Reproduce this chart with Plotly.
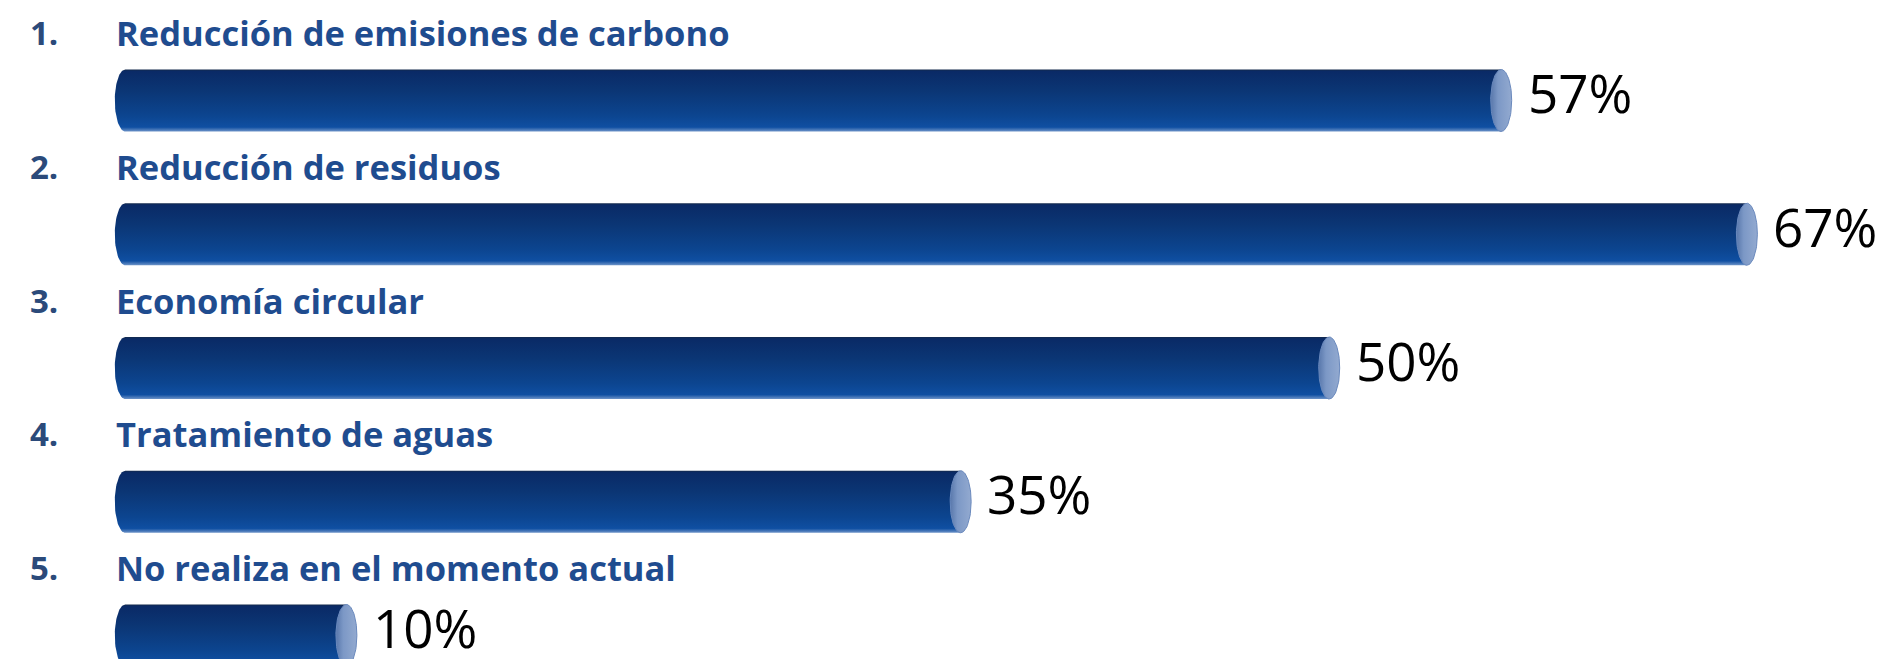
import numpy as np
import plotly.graph_objects as go

# ---- data ----
numbers = ["1.", "2.", "3.", "4.", "5."]
categories = [
    "Reducción de emisiones de carbono",
    "Reducción de residuos",
    "Economía circular",
    "Tratamiento de aguas",
    "No realiza en el momento actual",
]
values = [57, 67, 50, 35, 10]
value_labels = ["57%", "67%", "50%", "35%", "10%"]

# ---- geometry (pixel based conversion for axis ranges) ----
W, H = 1899, 659
PX_PER_X = 24.57        # pixels per percentage point
ZERO_PX = 92.7          # pixel of value 0
BAR_BASE = 1.0          # bars start slightly right of zero (drawing offset)
PX_PER_Y = 133.75       # pixels between bar rows
FIRST_PX = 92.5         # pixel center of first bar

HALF_H = 31.0 / PX_PER_Y
RX = 10.5 / PX_PER_X
LABEL_DY = -68.0 / PX_PER_Y

xr = [-ZERO_PX / PX_PER_X, (W - ZERO_PX) / PX_PER_X]
yr = [(H - FIRST_PX) / PX_PER_Y, -FIRST_PX / PX_PER_Y]

fig = go.Figure()

t_left = np.linspace(np.pi / 2, 3 * np.pi / 2, 40)
t_full = np.linspace(0, 2 * np.pi, 80)

bar_scale = [
    [0.0, "#142a4c"],
    [0.03, "#0a2a66"],
    [0.35, "#0b3675"],
    [0.75, "#0c4590"],
    [0.93, "#0f4fa2"],
    [1.0, "#6d93c8"],
]
cap_scale = [
    [0.0, "#5877ab"],
    [0.35, "#7c98c6"],
    [1.0, "#93aad0"],
]

for i, v in enumerate(values):
    # cylinder body: rounded left end, straight to the value
    lx = BAR_BASE + RX * np.cos(t_left)
    ly = i - HALF_H * np.sin(t_left)
    bx = list(lx) + [v, v, lx[0]]
    by = list(ly) + [i + HALF_H, i - HALF_H, ly[0]]
    fig.add_trace(go.Scatter(
        x=bx, y=by, mode="lines", fill="toself",
        line=dict(width=0, color="rgba(0,0,0,0)"),
        fillgradient=dict(type="vertical", colorscale=bar_scale,
                          start=i - HALF_H, stop=i + HALF_H),
        hoverinfo="skip", showlegend=False,
    ))
    # end cap ellipse
    ex = v + RX * np.cos(t_full)
    ey = i + HALF_H * np.sin(t_full)
    fig.add_trace(go.Scatter(
        x=ex, y=ey, mode="lines", fill="toself",
        line=dict(width=1, color="#6a89bd"),
        fillgradient=dict(type="horizontal", colorscale=cap_scale,
                          start=v - RX, stop=v + RX),
        hoverinfo="skip", showlegend=False,
    ))

annotations = []
for i, (num, cat, v, lab) in enumerate(zip(numbers, categories, values, value_labels)):
    annotations.append(dict(
        x=20 / W, xref="paper", y=i + LABEL_DY, yref="y",
        text=num, showarrow=False, xanchor="left", yanchor="middle",
        font=dict(family="Open Sans", size=33, color="#2b4a7a", weight="bold"),
    ))
    annotations.append(dict(
        x=106 / W, xref="paper", y=i + LABEL_DY, yref="y",
        text=cat, showarrow=False, xanchor="left", yanchor="middle",
        font=dict(family="Open Sans", size=34.5, color="#1f4c8f", weight="bold"),
    ))
    annotations.append(dict(
        x=v, xref="x", y=i, yref="y", xshift=RX * PX_PER_X + 14, yshift=8,
        text=lab, showarrow=False, xanchor="left", yanchor="middle",
        font=dict(family="Open Sans", size=53, color="#000000"),
    ))

fig.update_layout(
    width=W, height=H,
    margin=dict(l=0, r=0, t=0, b=0),
    paper_bgcolor="white", plot_bgcolor="white",
    xaxis=dict(range=xr, visible=False, fixedrange=True),
    yaxis=dict(range=yr, visible=False, fixedrange=True),
    annotations=annotations,
    showlegend=False,
)

fig.write_html("out.html")
